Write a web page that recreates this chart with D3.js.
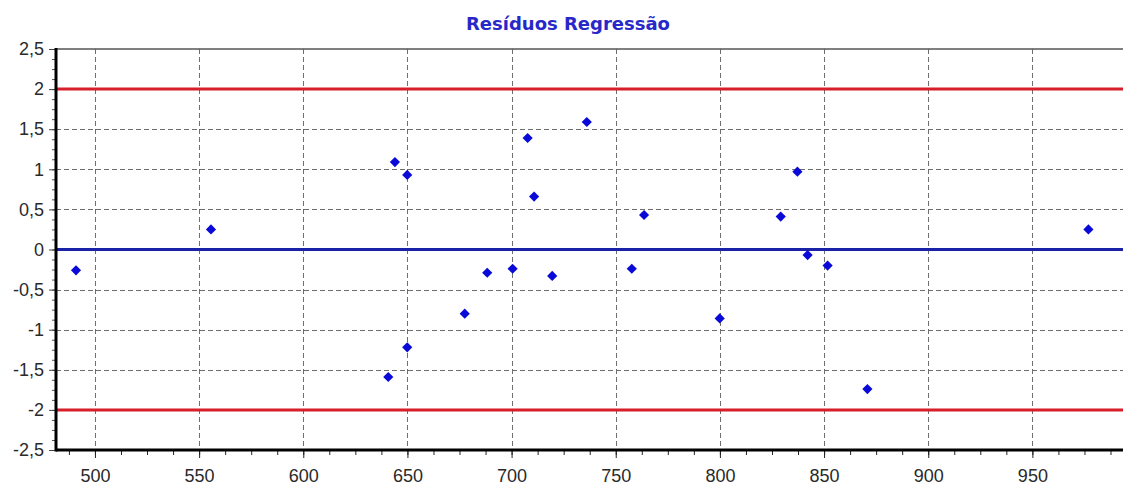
<!DOCTYPE html>
<html>
<head>
<meta charset="utf-8">
<script src="https://cdn.jsdelivr.net/npm/d3@7"></script>
<style>
  html, body { margin: 0; padding: 0; background: #fff; }
  svg { display: block; }
</style>
</head>
<body>
<svg id="chart" width="1123" height="486"></svg>
<script>
// ---- data ----
const title = "Resíduos Regressão";
const xValues = [490.9, 555.7, 640.8, 644.0, 649.9, 649.9, 677.5, 688.3, 700.5, 707.7, 710.8,
                 719.5, 736.1, 757.7, 763.6, 799.9, 829.2, 837.2, 842.1, 851.7, 870.8, 976.9];
const residuals = [-0.26, 0.25, -1.59, 1.09, 0.93, -1.22, -0.80, -0.29, -0.24, 1.39, 0.66,
                   -0.33, 1.59, -0.24, 0.43, -0.86, 0.41, 0.97, -0.07, -0.20, -1.74, 0.25];
const xTicks = [500, 550, 600, 650, 700, 750, 800, 850, 900, 950];
const yTicks = [-2.5, -2, -1.5, -1, -0.5, 0, 0.5, 1, 1.5, 2, 2.5];
const limitLines = [2, -2];
const zeroLine = [0];
const xDomain = [481.3, 993.5];
const yDomain = [-2.5, 2.5];

// ---- layout ----
const svg = d3.select("#chart");
const L = 56, R = 1123, T = 49, B = 450;
const x = d3.scaleLinear().domain(xDomain).range([L, R]);
const y = d3.scaleLinear().domain(yDomain).range([B, T]);
const fmt = v => String(v).replace(".", ",");
const font = "'Liberation Sans', Arial, sans-serif";

// title
svg.append("text")
  .attr("x", 568).attr("y", 30)
  .attr("text-anchor", "middle")
  .attr("font-family", "'DejaVu Sans', Verdana, sans-serif")
  .attr("font-weight", "bold")
  .attr("font-size", 18)
  .attr("fill", "#2828c8")
  .text(title);

// grid
const grid = svg.append("g").attr("stroke", "#6e6e6e").attr("stroke-width", 1)
  .attr("stroke-dasharray", "5,3").attr("fill", "none");
grid.selectAll("line.v").data(xTicks).join("line")
  .attr("x1", d => Math.round(x(d)) + 0.5).attr("x2", d => Math.round(x(d)) + 0.5)
  .attr("y1", T).attr("y2", B);
grid.selectAll("line.h").data(yTicks.filter(d => d > yDomain[0] && d < yDomain[1])).join("line")
  .attr("x1", L).attr("x2", R)
  .attr("y1", d => Math.round(y(d)) + 0.5).attr("y2", d => Math.round(y(d)) + 0.5);

// top border
svg.append("line").attr("x1", L).attr("x2", R).attr("y1", y(2.5)).attr("y2", y(2.5))
  .attr("stroke", "#555").attr("stroke-width", 1.6);

// limit lines
svg.selectAll("line.limit").data(limitLines).join("line")
  .attr("x1", L).attr("x2", R)
  .attr("y1", d => y(d)).attr("y2", d => y(d))
  .attr("stroke", "#d81e2a").attr("stroke-width", 3);

// zero line
svg.selectAll("line.zero").data(zeroLine).join("line")
  .attr("x1", L).attr("x2", R)
  .attr("y1", d => y(d)).attr("y2", d => y(d))
  .attr("stroke", "#1a22a8").attr("stroke-width", 3);

// axes
const xMinor = d3.range(487.5, xDomain[1], 12.5);
const yMinor = d3.range(-2.5, 2.5001, 0.125);

const xAxisG = svg.append("g").attr("transform", `translate(0,${B})`);
xAxisG.call(d3.axisBottom(x).tickValues(xMinor).tickSize(5).tickFormat(""))
  .call(g => g.select(".domain").remove())
  .call(g => g.selectAll("line").attr("stroke", "#222"));
const xMajor = svg.append("g").attr("transform", `translate(0,${B})`);
xMajor.call(d3.axisBottom(x).tickValues(xTicks).tickSize(8).tickPadding(11).tickFormat(fmt))
  .call(g => g.select(".domain").remove())
  .call(g => g.selectAll("line").attr("stroke", "#222"))
  .call(g => g.selectAll("text").attr("font-family", font).attr("font-size", 18).attr("fill", "#2a2a2a"));

const yAxisG = svg.append("g").attr("transform", `translate(${L},0)`);
yAxisG.call(d3.axisLeft(y).tickValues(yMinor).tickSize(4).tickFormat(""))
  .call(g => g.select(".domain").remove())
  .call(g => g.selectAll("line").attr("stroke", "#555"));
const yMajor = svg.append("g").attr("transform", `translate(${L},0)`);
yMajor.call(d3.axisLeft(y).tickValues(yTicks).tickSize(7).tickPadding(5).tickFormat(fmt))
  .call(g => g.select(".domain").remove())
  .call(g => g.selectAll("line").attr("stroke", "#444"))
  .call(g => g.selectAll("text").attr("font-family", font).attr("font-size", 18).attr("fill", "#2a2a2a"));

// axis lines
svg.append("line").attr("x1", L).attr("x2", R).attr("y1", B).attr("y2", B)
  .attr("stroke", "#000").attr("stroke-width", 3);
svg.append("line").attr("x1", L).attr("x2", L).attr("y1", T - 1).attr("y2", B + 1.5)
  .attr("stroke", "#000").attr("stroke-width", 3);

// points
const pts = xValues.map((v, i) => ({ x: v, y: residuals[i] }));
const diamond = d3.symbol().type(d3.symbolSquare).size(52);
svg.append("g").selectAll("path").data(pts).join("path")
  .attr("d", diamond)
  .attr("transform", d => `translate(${x(d.x)},${y(d.y)}) rotate(45)`)
  .attr("fill", "#0a0ad8");
</script>
</body>
</html>
